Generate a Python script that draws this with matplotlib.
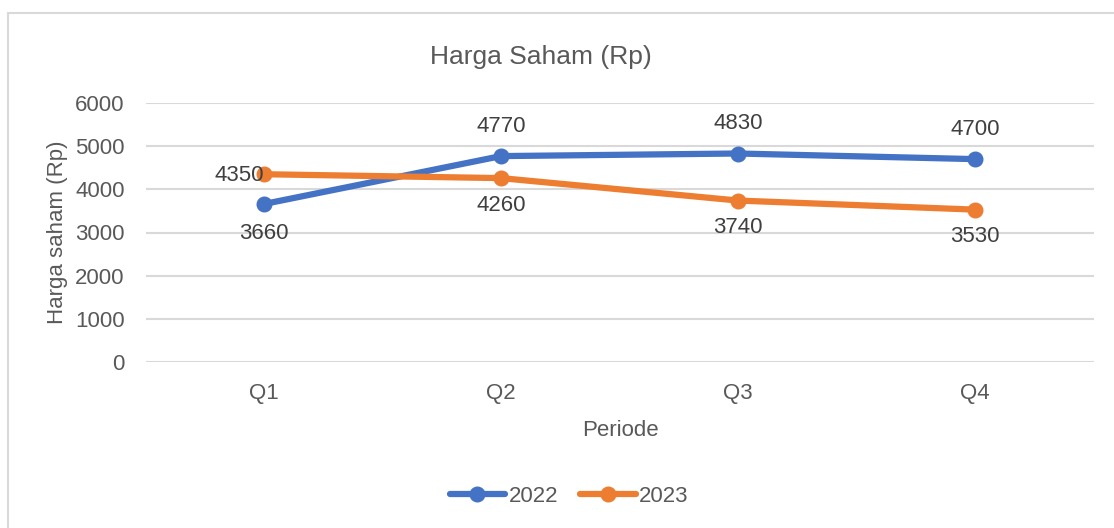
import matplotlib
matplotlib.use("Agg")
import matplotlib.pyplot as plt
from matplotlib import font_manager as fm
from matplotlib.patches import Rectangle

names = {f.name for f in fm.fontManager.ttflist}
fam = ['Liberation Sans Narrow'] if 'Liberation Sans Narrow' in names else ['Liberation Sans', 'DejaVu Sans']
plt.rcParams['font.family'] = fam

categories = ['Q1', 'Q2', 'Q3', 'Q4']
series_2022 = [3660, 4770, 4830, 4700]
series_2023 = [4350, 4260, 3740, 3530]
yticks = [0, 1000, 2000, 3000, 4000, 5000, 6000]

TXT = '#595959'
BLUE = '#4472C4'
ORANGE = '#ED7D31'

fig = plt.figure(figsize=(11.14, 5.28), dpi=100)
fig.patches.append(Rectangle((8/1114, -0.01), 1.02, 1 - 13/528 + 0.01, transform=fig.transFigure,
                             fill=False, edgecolor='#D9D9D9', linewidth=1.5))
ax = fig.add_axes([145.5/1114, 1 - 362/528, 948/1114, 259/528])
x = list(range(len(categories)))
ax.plot(x, series_2022, color=BLUE, lw=4.5, marker='o', ms=10.5, label='2022', solid_capstyle='round', zorder=3)
ax.plot(x, series_2023, color=ORANGE, lw=4.5, marker='o', ms=10.5, label='2023', solid_capstyle='round', zorder=3)

ax.set_xlim(-0.5, 3.5)
ax.set_ylim(0, 6000)
ax.set_yticks(yticks)
ax.set_xticks(x)
ax.set_xticklabels(categories)
ax.grid(axis='y', color='#D9D9D9', lw=1.5)
ax.set_axisbelow(True)
for s in ax.spines.values():
    s.set_visible(False)
ax.tick_params(length=0, labelsize=16, colors=TXT)
ax.tick_params(axis='y', pad=15)
ax.tick_params(axis='x', pad=15)

fs = 16
lc = '#404040'
for i, v in enumerate(series_2022):
    if i == 0:
        ax.annotate(str(v), (i, v), xytext=(0, -14), textcoords='offset points', ha='center', va='top', fontsize=fs, color=lc)
    else:
        ax.annotate(str(v), (i, v), xytext=(0, 14), textcoords='offset points', ha='center', va='bottom', fontsize=fs, color=lc)
for i, v in enumerate(series_2023):
    if i == 0:
        ax.annotate(str(v), (i, v), xytext=(0, -1), textcoords='offset points', ha='right', va='center', fontsize=fs, color=lc)
    else:
        ax.annotate(str(v), (i, v), xytext=(0, -12), textcoords='offset points', ha='center', va='top', fontsize=fs, color=lc)

fig.text(541/1114, 1 - 57/528, 'Harga Saham (Rp)', ha='center', va='center', fontsize=19, color=TXT)
fig.text(620/1114, 1 - 430/528, 'Periode', ha='center', va='center', fontsize=16, color=TXT)
fig.text(58/1114, 1 - 232/528, 'Harga saham (Rp)', ha='center', va='center', rotation=90, fontsize=16, color=TXT)

leg = fig.legend(loc='center', bbox_to_anchor=(569/1114, 1 - 496/528), ncol=2, frameon=False,
                 fontsize=16, handlelength=2.5, handletextpad=0.15, columnspacing=1.0, labelcolor=TXT)

fig.savefig('out.png', dpi=100)
